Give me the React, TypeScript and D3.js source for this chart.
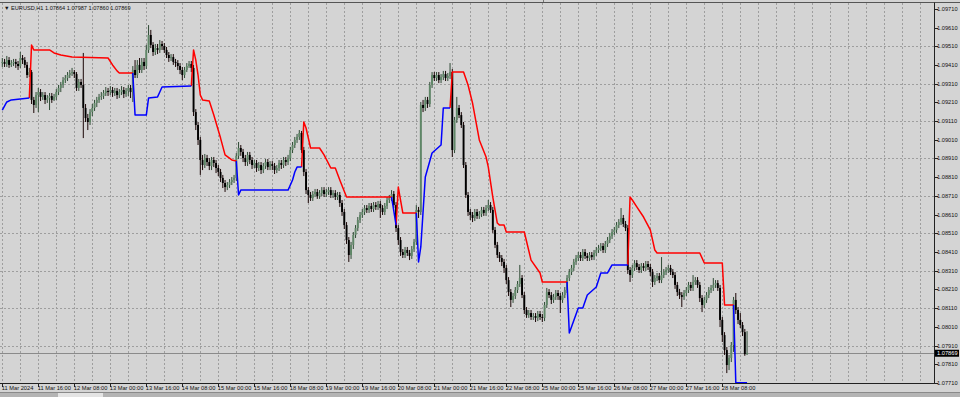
import React from "react";
import * as d3 from "d3";

// ---------- DATA (EURUSD, H1) ----------
const firstOpen = 1.0942;

const closes = [
  1.09426,1.09415,1.09436,1.09410,1.09420,1.09426,1.09415,1.09404,
  1.09447,1.09436,1.09410,1.09356,1.09372,1.09223,1.09196,1.09249,
  1.09265,1.09239,1.09249,1.09223,1.09233,1.09244,1.09223,1.09239,
  1.09265,1.09287,1.09303,1.09329,1.09340,1.09356,1.09367,1.09372,
  1.09361,1.09287,1.09319,1.09303,1.09180,1.09126,1.09105,1.09158,
  1.09180,1.09207,1.09223,1.09239,1.09244,1.09260,1.09271,1.09265,
  1.09276,1.09260,1.09271,1.09249,1.09265,1.09276,1.09255,1.09271,
  1.09287,1.09265,1.09383,1.09356,1.09410,1.09383,1.09426,1.09404,
  1.09490,1.09570,1.09517,1.09479,1.09500,1.09490,1.09522,1.09511,
  1.09490,1.09463,1.09447,1.09452,1.09426,1.09420,1.09404,1.09383,
  1.09356,1.09383,1.09404,1.09415,1.09394,1.09158,1.09089,1.09009,
  1.08902,1.08875,1.08912,1.08891,1.08870,1.08902,1.08886,1.08859,
  1.08838,1.08806,1.08779,1.08757,1.08768,1.08784,1.08795,1.08806,
  1.08924,1.08966,1.08945,1.08912,1.08891,1.08929,1.08902,1.08875,
  1.08886,1.08859,1.08875,1.08848,1.08870,1.08891,1.08864,1.08880,
  1.08870,1.08848,1.08859,1.08886,1.08875,1.08902,1.08891,1.08912,
  1.08955,1.08982,1.09009,1.09025,1.09046,1.08955,1.08838,1.08741,
  1.08715,1.08699,1.08720,1.08731,1.08709,1.08725,1.08741,1.08720,
  1.08731,1.08741,1.08715,1.08725,1.08704,1.08715,1.08672,1.08624,
  1.08554,1.08474,1.08394,1.08448,1.08501,1.08538,1.08581,1.08608,
  1.08624,1.08645,1.08635,1.08656,1.08640,1.08661,1.08651,1.08667,
  1.08645,1.08624,1.08656,1.08688,1.08699,1.08720,1.08661,1.08538,
  1.08474,1.08410,1.08394,1.08421,1.08405,1.08389,1.08426,1.08464,
  1.08635,1.08624,1.09196,1.09180,1.09223,1.09201,1.09303,1.09356,
  1.09340,1.09356,1.09329,1.09345,1.09361,1.09340,1.09351,1.09372,
  1.08955,1.09116,1.09180,1.09142,1.09089,1.08875,1.08715,1.08624,
  1.08608,1.08592,1.08624,1.08603,1.08613,1.08635,1.08619,1.08645,
  1.08661,1.08635,1.08528,1.08448,1.08394,1.08378,1.08357,1.08325,
  1.08260,1.08196,1.08154,1.08175,1.08207,1.08239,1.08271,1.08180,
  1.08100,1.08073,1.08084,1.08063,1.08068,1.08058,1.08079,1.08063,
  1.08058,1.08127,1.08196,1.08180,1.08154,1.08170,1.08191,1.08175,
  1.08154,1.08180,1.08207,1.08271,1.08303,1.08325,1.08357,1.08378,
  1.08394,1.08378,1.08410,1.08389,1.08378,1.08394,1.08383,1.08405,
  1.08421,1.08431,1.08442,1.08421,1.08453,1.08474,1.08495,1.08517,
  1.08528,1.08554,1.08570,1.08592,1.08560,1.08538,1.08314,1.08287,
  1.08325,1.08351,1.08330,1.08314,1.08335,1.08325,1.08346,1.08330,
  1.08303,1.08250,1.08271,1.08282,1.08260,1.08287,1.08303,1.08314,
  1.08325,1.08303,1.08287,1.08234,1.08196,1.08180,1.08170,1.08191,
  1.08207,1.08234,1.08218,1.08250,1.08260,1.08234,1.08164,1.08127,
  1.08154,1.08180,1.08207,1.08218,1.08234,1.08244,1.08218,1.08047,
  1.07966,1.07886,1.07806,1.07844,1.07913,1.08154,1.08100,1.08047,
  1.08020,1.07982,1.07864,1.07869,
];

const highs = [
  1.09447,1.09442,1.09458,1.09452,1.09436,1.09442,1.09442,1.09431,
  1.09479,1.09463,1.09452,1.09426,1.09394,1.09383,1.09239,1.09265,
  1.09287,1.09281,1.09265,1.09265,1.09249,1.09260,1.09260,1.09255,
  1.09281,1.09303,1.09319,1.09345,1.09356,1.09372,1.09383,1.09394,
  1.09383,1.09372,1.09335,1.09335,1.09474,1.09201,1.09148,1.09174,
  1.09201,1.09223,1.09239,1.09255,1.09265,1.09276,1.09292,1.09287,
  1.09297,1.09292,1.09287,1.09287,1.09281,1.09297,1.09292,1.09287,
  1.09303,1.09303,1.09404,1.09436,1.09436,1.09447,1.09447,1.09447,
  1.09517,1.09623,1.09597,1.09532,1.09522,1.09522,1.09543,1.09538,
  1.09527,1.09506,1.09479,1.09468,1.09468,1.09442,1.09436,1.09420,
  1.09399,1.09399,1.09420,1.09431,1.09431,1.09410,1.09174,1.09105,
  1.09025,1.08929,1.08934,1.08929,1.08912,1.08918,1.08918,1.08902,
  1.08875,1.08854,1.08822,1.08795,1.08784,1.08800,1.08811,1.08822,
  1.08939,1.08998,1.08982,1.08961,1.08929,1.08945,1.08945,1.08918,
  1.08902,1.08902,1.08891,1.08891,1.08886,1.08907,1.08907,1.08896,
  1.08896,1.08886,1.08875,1.08902,1.08902,1.08918,1.08918,1.08929,
  1.08972,1.08998,1.09025,1.09041,1.09062,1.09057,1.08972,1.08854,
  1.08757,1.08731,1.08736,1.08747,1.08747,1.08741,1.08757,1.08757,
  1.08747,1.08757,1.08757,1.08741,1.08741,1.08731,1.08731,1.08688,
  1.08640,1.08570,1.08490,1.08464,1.08517,1.08554,1.08597,1.08624,
  1.08640,1.08661,1.08661,1.08672,1.08672,1.08677,1.08677,1.08683,
  1.08683,1.08661,1.08672,1.08704,1.08715,1.08741,1.08736,1.08677,
  1.08554,1.08490,1.08426,1.08437,1.08437,1.08421,1.08442,1.08480,
  1.08661,1.08651,1.09212,1.09223,1.09239,1.09239,1.09319,1.09372,
  1.09372,1.09372,1.09372,1.09361,1.09378,1.09378,1.09367,1.09420,
  1.09388,1.09132,1.09239,1.09196,1.09158,1.09105,1.08891,1.08731,
  1.08640,1.08624,1.08640,1.08640,1.08629,1.08651,1.08651,1.08661,
  1.08688,1.08677,1.08651,1.08544,1.08464,1.08410,1.08394,1.08373,
  1.08341,1.08276,1.08212,1.08191,1.08223,1.08255,1.08341,1.08287,
  1.08196,1.08116,1.08100,1.08100,1.08084,1.08084,1.08095,1.08095,
  1.08079,1.08143,1.08218,1.08212,1.08196,1.08186,1.08207,1.08207,
  1.08191,1.08196,1.08223,1.08287,1.08319,1.08341,1.08373,1.08394,
  1.08410,1.08410,1.08426,1.08426,1.08405,1.08410,1.08410,1.08421,
  1.08437,1.08448,1.08458,1.08458,1.08469,1.08490,1.08512,1.08533,
  1.08544,1.08570,1.08586,1.08645,1.08608,1.08576,1.08554,1.08330,
  1.08341,1.08367,1.08367,1.08346,1.08351,1.08351,1.08362,1.08362,
  1.08346,1.08319,1.08287,1.08298,1.08298,1.08383,1.08319,1.08330,
  1.08341,1.08341,1.08319,1.08303,1.08250,1.08213,1.08196,1.08207,
  1.08223,1.08250,1.08250,1.08287,1.08276,1.08276,1.08250,1.08180,
  1.08170,1.08196,1.08223,1.08234,1.08271,1.08260,1.08260,1.08234,
  1.08063,1.07982,1.07902,1.07860,1.07929,1.08170,1.08191,1.08116,
  1.08084,1.08036,1.07999,1.07987,
];

const lows = [
  1.09399,1.09399,1.09399,1.09394,1.09399,1.09404,1.09394,1.09383,
  1.09394,1.09415,1.09394,1.09340,1.09345,1.09201,1.09153,1.09180,
  1.09158,1.09217,1.09223,1.09201,1.09207,1.09169,1.09207,1.09217,
  1.09223,1.09249,1.09265,1.09287,1.09313,1.09324,1.09340,1.09351,
  1.09340,1.09271,1.09271,1.09287,1.09019,1.09105,1.09062,1.09089,
  1.09137,1.09164,1.09185,1.09207,1.09223,1.09228,1.09244,1.09244,
  1.09249,1.09239,1.09244,1.09228,1.09233,1.09249,1.09233,1.09239,
  1.09244,1.09233,1.09212,1.09340,1.09340,1.09367,1.09367,1.09383,
  1.09388,1.09474,1.09500,1.09458,1.09463,1.09468,1.09474,1.09490,
  1.09474,1.09447,1.09426,1.09431,1.09410,1.09399,1.09383,1.09361,
  1.09329,1.09340,1.09372,1.09394,1.09372,1.09137,1.09062,1.08982,
  1.08822,1.08848,1.08859,1.08870,1.08848,1.08848,1.08864,1.08832,
  1.08816,1.08784,1.08752,1.08731,1.08741,1.08752,1.08768,1.08779,
  1.08790,1.08907,1.08924,1.08891,1.08870,1.08870,1.08880,1.08854,
  1.08859,1.08838,1.08843,1.08827,1.08832,1.08854,1.08848,1.08848,
  1.08848,1.08827,1.08832,1.08843,1.08854,1.08859,1.08870,1.08875,
  1.08896,1.08939,1.08966,1.08993,1.09009,1.08939,1.08816,1.08720,
  1.08672,1.08683,1.08683,1.08704,1.08694,1.08694,1.08709,1.08704,
  1.08704,1.08715,1.08699,1.08699,1.08688,1.08688,1.08651,1.08603,
  1.08533,1.08453,1.08357,1.08373,1.08426,1.08485,1.08522,1.08565,
  1.08592,1.08608,1.08619,1.08619,1.08624,1.08624,1.08635,1.08635,
  1.08592,1.08608,1.08608,1.08640,1.08672,1.08683,1.08645,1.08517,
  1.08448,1.08389,1.08378,1.08378,1.08389,1.08367,1.08373,1.08410,
  1.08448,1.08592,1.08608,1.09158,1.09164,1.09180,1.09185,1.09287,
  1.09324,1.09324,1.09313,1.09313,1.09329,1.09324,1.09324,1.09335,
  1.08918,1.08939,1.09100,1.09126,1.09073,1.08859,1.08699,1.08603,
  1.08581,1.08570,1.08576,1.08587,1.08587,1.08597,1.08603,1.08603,
  1.08629,1.08619,1.08512,1.08431,1.08378,1.08357,1.08335,1.08298,
  1.08239,1.08175,1.08116,1.08138,1.08159,1.08191,1.08223,1.08164,
  1.08079,1.08058,1.08058,1.08047,1.08047,1.08036,1.08041,1.08047,
  1.08036,1.08041,1.08111,1.08164,1.08132,1.08138,1.08154,1.08154,
  1.08084,1.08138,1.08164,1.08191,1.08255,1.08287,1.08309,1.08341,
  1.08362,1.08362,1.08362,1.08373,1.08362,1.08362,1.08367,1.08367,
  1.08389,1.08405,1.08415,1.08405,1.08405,1.08437,1.08458,1.08480,
  1.08501,1.08512,1.08538,1.08554,1.08544,1.08522,1.08293,1.08250,
  1.08271,1.08309,1.08314,1.08298,1.08298,1.08309,1.08309,1.08314,
  1.08282,1.08223,1.08234,1.08255,1.08244,1.08244,1.08271,1.08287,
  1.08298,1.08287,1.08271,1.08213,1.08175,1.08159,1.08116,1.08154,
  1.08175,1.08191,1.08202,1.08202,1.08234,1.08218,1.08143,1.08089,
  1.08111,1.08138,1.08164,1.08191,1.08202,1.08218,1.08202,1.08009,
  1.07929,1.07860,1.07763,1.07779,1.07822,1.07876,1.08079,1.08025,
  1.08004,1.07961,1.07855,1.07860,
];

// trailing stop: [barIndex, price] vertices
const redStops: [number, number][][] = [
  [[12,1.09233],[13,1.09516],[14,1.09490],[21,1.09490],[23,1.09474],[26,1.09463],[31,1.09452],[47,1.09447],[49,1.09410],[51,1.09378],[52,1.09367],[58,1.09367]],
  [[84,1.09297],[85,1.09490],[86,1.09436],[87,1.09356],[88,1.09249],[89,1.09223],[92,1.09217],[94,1.09142],[97,1.09019],[99,1.08929],[102,1.08902],[104,1.08896]],
  [[133,1.08864],[134,1.09105],[135,1.09073],[137,1.08966],[141,1.08966],[143,1.08929],[146,1.08859],[148,1.08859],[150,1.08795],[153,1.08704],[173,1.08704]],
  [[175,1.08554],[176,1.08757],[177,1.08688],[178,1.08619],[184,1.08619]],
  [[199,1.09180],[200,1.09372],[205,1.09372],[207,1.09303],[209,1.09206],[212,1.09009],[215,1.08918],[216,1.08864],[218,1.08704],[220,1.08565],[221,1.08554],[223,1.08554],[224,1.08517],[232,1.08517],[235,1.08367],[239,1.08298],[240,1.08250],[251,1.08250]],
  [[278,1.08341],[279,1.08704],[280,1.08688],[282,1.08651],[285,1.08597],[288,1.08528],[290,1.08421],[291,1.08405],[310,1.08405],[312,1.08351],[320,1.08351],[321,1.08127],[325,1.08127]],
];
const blueStops: [number, number][][] = [
  [[0,1.09169],[2,1.09212],[4,1.09223],[12,1.09233]],
  [[58,1.09367],[59,1.09142],[64,1.09142],[65,1.09233],[69,1.09239],[70,1.09265],[71,1.09292],[84,1.09297]],
  [[104,1.08896],[105,1.08715],[106,1.08741],[127,1.08741],[129,1.08795],[130,1.08838],[131,1.08864],[133,1.08864]],
  [[173,1.08704],[174,1.08630],[175,1.08554]],
  [[184,1.08619],[185,1.08357],[186,1.08437],[188,1.08811],[191,1.08939],[195,1.08982],[196,1.09180],[199,1.09180]],
  [[251,1.08250],[252,1.07977],[256,1.08111],[258,1.08111],[260,1.08180],[264,1.08223],[266,1.08298],[269,1.08298],[271,1.08341],[278,1.08341]],
  [[325,1.08127],[326,1.07712],[331,1.07712]],
];

const priceTicks = [
  1.07710,1.07810,1.07910,1.08010,1.08110,1.08210,1.08310,1.08410,1.08510,1.08610,
  1.08710,1.08810,1.08910,1.09010,1.09110,1.09210,1.09310,1.09410,1.09510,1.09610,1.09710,
];
const priceGrid = [1.07710,1.07910,1.08110,1.08310,1.08510,1.08710,1.08910,1.09110,1.09310,1.09510];
const timeLabels = [
  "11 Mar 2024","11 Mar 16:00","12 Mar 08:00","13 Mar 00:00","13 Mar 16:00","14 Mar 08:00",
  "15 Mar 00:00","15 Mar 16:00","18 Mar 08:00","19 Mar 00:00","19 Mar 16:00","20 Mar 08:00",
  "21 Mar 00:00","21 Mar 16:00","22 Mar 08:00","25 Mar 00:00","25 Mar 16:00","26 Mar 08:00",
  "27 Mar 00:00","27 Mar 16:00","28 Mar 08:00",
];
const timeLabelBars = [0,16,32,48,64,80,96,112,128,144,160,176,192,208,224,240,256,272,288,304,320];
const symbolTitle = "EURUSD,H1";
const lastPrice = 1.07869;

// ---------- LAYOUT ----------
const W = 960, H = 397;
const PLOT_R = 934, PLOT_T = 2.5, PLOT_B = 383.5;
const FONT = "'Liberation Sans', Arial, sans-serif";

export default function App() {
  const x = d3.scaleLinear().domain([0, 331]).range([2.3, 2.3 + 2.25 * 331]);
  const y = d3.scaleLinear().domain([1.0771, 1.09757]).range([383, 0]);
  const opens = closes.map((c, i) => (i === 0 ? firstOpen : closes[i - 1]));
  const line = d3.line<[number, number]>().x(d => x(d[0])).y(d => y(d[1]));
  const vGridBars = d3.range(0, 416, 8);
  const bg = "#d4d4d4";
  const gridC = "#9e9e9e";

  return (
    <div style={{ position: "fixed", left: 0, top: 0, width: W, height: H, background: bg }}>
      <svg width={W} height={H} style={{ display: "block" }}>
        <defs>
          <clipPath id="plot">
            <rect x={0} y={PLOT_T} width={PLOT_R} height={PLOT_B - PLOT_T} />
          </clipPath>
        </defs>
        <rect x={0} y={0} width={W} height={H} fill={bg} />
        {/* grid */}
        <g stroke={gridC} strokeWidth={1} strokeDasharray="2,2" shapeRendering="crispEdges">
          {vGridBars.map(b => (
            <line key={"v" + b} x1={Math.round(x(b)) + 0.5} x2={Math.round(x(b)) + 0.5} y1={PLOT_T} y2={PLOT_B} />
          ))}
          {priceGrid.map(p => (
            <line key={"h" + p} x1={0} x2={PLOT_R} y1={Math.round(y(p)) + 0.5} y2={Math.round(y(p)) + 0.5} />
          ))}
        </g>
        {/* bid line */}
        <line x1={0} x2={PLOT_R} y1={Math.round(y(lastPrice)) + 0.5} y2={Math.round(y(lastPrice)) + 0.5} stroke="#8a8a8a" strokeWidth={1} />
        <g clipPath="url(#plot)">
          {/* candles */}
          {closes.map((c, i) => {
            const o = opens[i];
            const up = c >= o;
            const cx = x(i);
            const top = y(Math.max(o, c));
            const bot = y(Math.min(o, c));
            return (
              <g key={i}>
                <line x1={cx} x2={cx} y1={y(highs[i])} y2={y(lows[i])} stroke={up ? "#2f4a35" : "#1a0505"} strokeWidth={1} />
                <rect x={cx - 0.95} y={top} width={1.9} height={Math.max(0.8, bot - top)} fill={up ? "#5f8767" : "#000000"} />
              </g>
            );
          })}
          {/* trailing stop */}
          {redStops.map((seg, k) => (
            <path key={"r" + k} d={line(seg) || ""} fill="none" stroke="#ff0000" strokeWidth={1.5} strokeLinejoin="round" />
          ))}
          {blueStops.map((seg, k) => (
            <path key={"b" + k} d={line(seg) || ""} fill="none" stroke="#0000ff" strokeWidth={1.5} strokeLinejoin="round" />
          ))}
        </g>
        {/* frame */}
        <line x1={0} x2={W} y1={2.5} y2={2.5} stroke="#555" strokeWidth={1} />
        <line x1={543.5} x2={543.5} y1={0} y2={2} stroke="#777" strokeWidth={1} />
        <line x1={PLOT_R + 0.5} x2={PLOT_R + 0.5} y1={PLOT_T} y2={PLOT_B} stroke="#222" strokeWidth={1} />
        <line x1={0} x2={PLOT_R + 1} y1={PLOT_B} y2={PLOT_B} stroke="#222" strokeWidth={1} />
        {/* price axis */}
        <g fontFamily={FONT} fontSize={5.7} fill="#111">
          {priceTicks.map(p => (
            <g key={"p" + p}>
              <line x1={PLOT_R + 1} x2={PLOT_R + 4} y1={Math.round(y(p)) + 0.5} y2={Math.round(y(p)) + 0.5} stroke="#222" />
              <text x={937} y={y(p) + 2}>{p.toFixed(5)}</text>
            </g>
          ))}
        </g>
        <rect x={935} y={y(lastPrice) - 3.5} width={24} height={7} fill="#000" />
        <text x={937} y={y(lastPrice) + 2} fontFamily={FONT} fontSize={5.7} fill="#fff">{lastPrice.toFixed(5)}</text>
        {/* time axis */}
        <g fontFamily={FONT} fontSize={5.7} fill="#111">
          {timeLabelBars.map((b, k) => (
            <g key={"t" + b}>
              <line x1={Math.round(x(b)) + 0.5} x2={Math.round(x(b)) + 0.5} y1={PLOT_B} y2={PLOT_B + 3.5} stroke="#222" />
              <text x={x(b) - 0.5} y={390}>{timeLabels[k]}</text>
            </g>
          ))}
        </g>
        {/* title */}
        <text x={4} y={9.5} fontFamily={FONT} fontSize={5.6} fill="#111">
          {"\u25BC " + symbolTitle + "  " + [opens[331], highs[331], lows[331], closes[331]].map(v => v.toFixed(5)).join(" ")}
        </text>
        {/* bottom tab strip */}
        <rect x={0} y={392.5} width={W} height={4.5} fill="#b4b4b4" />
        <line x1={0} x2={W} y1={392.5} y2={392.5} stroke="#8a8a8a" />
        <rect x={58} y={393} width={45} height={4} fill="#e4e4e4" />
      </svg>
    </div>
  );
}
